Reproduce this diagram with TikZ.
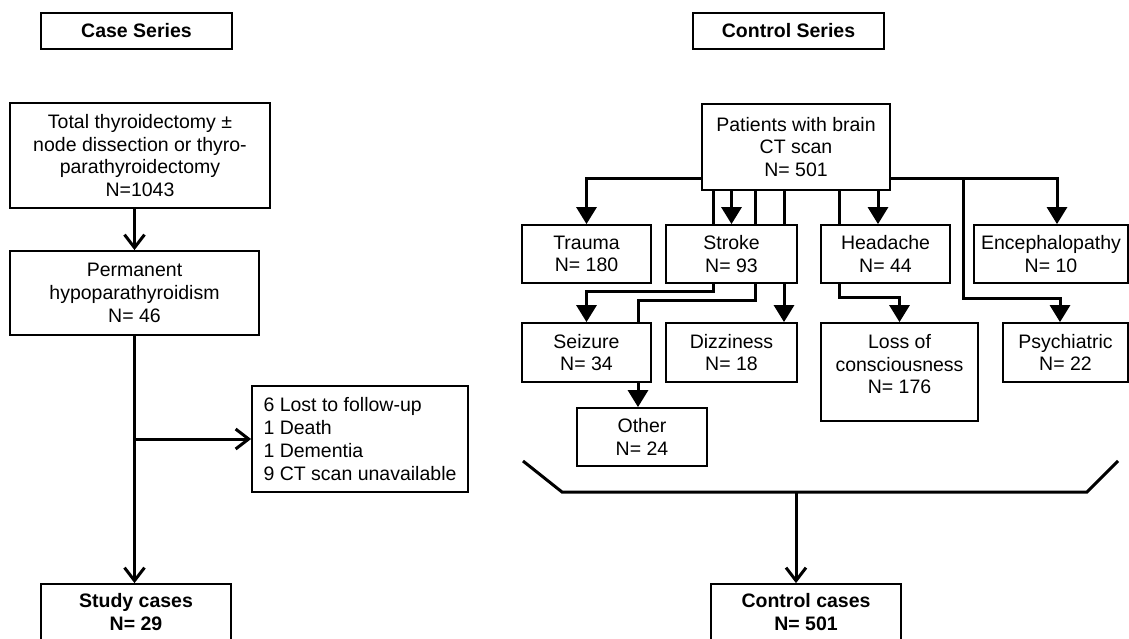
\documentclass[tikz,border=0pt]{standalone}
\usepackage{fontspec}
\setmainfont{Liberation Sans}
\usetikzlibrary{arrows.meta,calc}
\begin{document}
\begin{tikzpicture}[x=1pt,y=-1pt,
  box/.style={draw, line width=1.8pt, inner sep=0pt, align=center, font=\fontsize{19.5}{22.7}\selectfont},
  ttl/.style={box, font=\fontsize{19.5}{22.7}\selectfont\bfseries},
  conn/.style={line width=3pt},
  tarrow/.style={conn, -{Triangle[width=20pt,length=17pt]}},
  carrow/.style={conn, -{Straight Barb[width=20pt,length=13pt]}}
]
\clip (0,0) rectangle (1129,638);

% helper x positions
\coordinate (a713) at (713,0);
\coordinate (a755) at (755,0);
\coordinate (a784) at (784,0);
\coordinate (a839) at (839,0);
\coordinate (a878) at (878,0);
\coordinate (a963) at (963,0);
\coordinate (a1057) at (1057,0);
\coordinate (a1060) at (1060,0);
\coordinate (a638) at (638,0);
\coordinate (a796) at (796,0);

% Case series
\node[ttl, minimum width=191pt, minimum height=36pt] (cs) at (136.5,31) {Case Series};
\node[box, minimum width=260pt, minimum height=105pt] (tot) at (140,155.5) {Total thyroidectomy ±\\node dissection or thyro-\\parathyroidectomy\\N=1043};
\node[box, minimum width=249pt, minimum height=84pt] (perm) at (134.5,293) {Permanent\\hypoparathyroidism\\N= 46};
\node[box, minimum width=216pt, minimum height=106pt, align=left] (lost) at (360,439) {6 Lost to follow-up\\1 Death\\1 Dementia\\9 CT scan unavailable};
\node[ttl, minimum width=190pt, minimum height=56pt] (study) at (136,612) {Study cases\\N= 29};

\draw[carrow] (tot.south -| perm.north) -- (perm.north);
\draw[carrow] (perm.south) -- (perm.south |- study.north);
\draw[carrow] (perm.south |- lost.west) -- (lost.west);

% Control series
\node[ttl, minimum width=191pt, minimum height=36pt] (ctls) at (788.5,31) {Control Series};
\node[box, minimum width=188pt, minimum height=86pt] (pat) at (796,147) {Patients with brain\\CT scan\\N= 501};
\node[box, minimum width=129pt, minimum height=58pt] (trauma) at (586.5,254) {Trauma\\N= 180};
\node[box, minimum width=131pt, minimum height=58pt] (stroke) at (731.5,254) {Stroke\\N= 93};
\node[box, minimum width=129pt, minimum height=58pt] (head) at (885.5,254) {Headache\\N= 44};
\node[box, minimum width=154pt, minimum height=58pt] (enc) at (1051,254) {Encephalopathy\\N= 10};
\node[box, minimum width=129pt, minimum height=59pt] (seiz) at (586.5,352.5) {Seizure\\N= 34};
\node[box, minimum width=131pt, minimum height=59pt] (dizz) at (731.5,352.5) {Dizziness\\N= 18};
\node[box, minimum width=157pt, minimum height=98pt, text depth=16pt] (loss) at (899.5,372) {Loss of\\consciousness\\N= 176};
\node[box, minimum width=125pt, minimum height=59pt] (psy) at (1065.5,352.5) {Psychiatric\\N= 22};
\node[box, minimum width=130pt, minimum height=58pt] (other) at (642,437) {Other\\N= 24};
\node[ttl, minimum width=190pt, minimum height=56pt] (ccas) at (806,612) {Control cases\\N= 501};

\coordinate (pl) at ($(pat.south west)+(0,-12)$);
\coordinate (pr) at ($(pat.south east)+(0,-12)$);

\draw[tarrow] (pl) -| (trauma.north);
\draw[tarrow] (pr) -| (enc.north -| a1057);
\draw[tarrow] (pr -| a963) -- ++(0,120) -| (psy.north -| a1060);

\draw[conn] (pat.south -| a713) -- (stroke.north -| a713);
\draw[conn] (pat.south -| a755) -- (stroke.north -| a755);
\draw[conn] (pat.south -| a784) -- (stroke.north -| a784);
\draw[tarrow] (pat.south -| stroke.north) -- (stroke.north);

\draw[tarrow] (stroke.south -| a713) -- ++(0,8) -| (seiz.north);
\draw[conn] (stroke.south -| a755) -- ++(0,17) -| (seiz.north -| a638);
\draw[tarrow] (seiz.south -| a638) -- (other.north -| a638);
\draw[tarrow] (stroke.south -| a784) -- (dizz.north -| a784);

\draw[conn] (pat.south -| a839) -- (head.north -| a839);
\draw[tarrow] (pat.south -| a878) -- (head.north -| a878);
\draw[tarrow] (head.south -| a839) -- ++(0,14) -| (loss.north);

% bracket
\coordinate (bl) at (523,461);
\coordinate (b1) at (562,492);
\coordinate (b2) at (1087,492);
\coordinate (br) at (1118,461);
\draw[conn] (bl) -- (b1) -- (b2) -- (br);
\draw[carrow] (b1 -| a796) -- (ccas.north -| a796);
\end{tikzpicture}
\end{document}
